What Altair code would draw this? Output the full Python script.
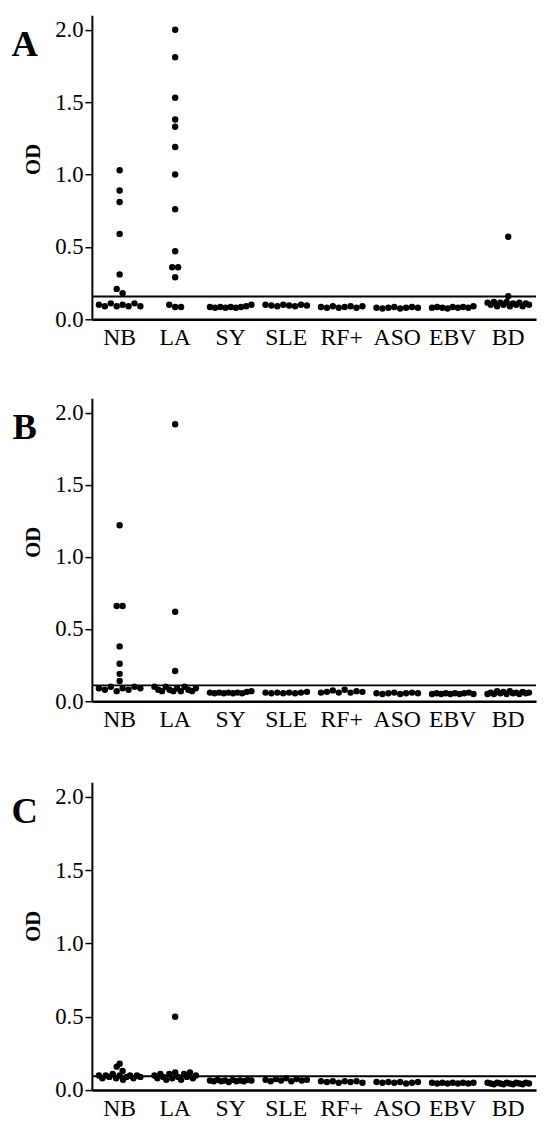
import altair as alt
import pandas as pd

categories = ["NB", "LA", "SY", "SLE", "RF+", "ASO", "EBV", "BD"]

# Panel A values (OD)
A_NB = [1.03, 0.89, 0.81, 0.59, 0.31, 0.21, 0.18, 0.10, 0.09, 0.11, 0.09, 0.10, 0.09, 0.11, 0.09]
A_LA = [2.00, 1.81, 1.53, 1.38, 1.33, 1.19, 1.00, 0.76, 0.47, 0.36, 0.36, 0.29, 0.10, 0.085, 0.085]
A_SY = [0.085, 0.08, 0.085, 0.08, 0.085, 0.08, 0.085, 0.09, 0.10]
A_SLE = [0.10, 0.095, 0.09, 0.10, 0.095, 0.09, 0.10, 0.095]
A_RF = [0.085, 0.08, 0.09, 0.08, 0.085, 0.09, 0.08, 0.09]
A_ASO = [0.08, 0.075, 0.08, 0.085, 0.075, 0.08, 0.085, 0.08]
A_EBV = [0.08, 0.085, 0.08, 0.075, 0.085, 0.08, 0.085, 0.08, 0.09]
A_BD = [0.57, 0.16, 0.115, 0.10, 0.12, 0.09, 0.115, 0.10, 0.12, 0.09, 0.11, 0.10, 0.115, 0.09, 0.11, 0.10]

# Panel B values
B_NB = [1.22, 0.66, 0.66, 0.38, 0.26, 0.19, 0.14, 0.09, 0.08, 0.10, 0.07, 0.09, 0.08, 0.10, 0.09]
B_LA = [1.92, 0.62, 0.21, 0.10, 0.08, 0.07, 0.10, 0.08, 0.07, 0.09, 0.07, 0.10, 0.08, 0.07, 0.09]
B_SY = [0.06, 0.055, 0.06, 0.055, 0.06, 0.055, 0.06, 0.055, 0.065, 0.07]
B_SLE = [0.06, 0.055, 0.06, 0.055, 0.06, 0.055, 0.06, 0.065]
B_RF = [0.06, 0.065, 0.075, 0.06, 0.08, 0.06, 0.07, 0.065]
B_ASO = [0.055, 0.05, 0.055, 0.06, 0.05, 0.055, 0.06, 0.055]
B_EBV = [0.05, 0.055, 0.05, 0.055, 0.05, 0.055, 0.05, 0.055, 0.06, 0.05]
B_BD = [0.05, 0.06, 0.05, 0.07, 0.055, 0.065, 0.05, 0.07, 0.055, 0.06, 0.05, 0.065, 0.055, 0.06]

# Panel C values
C_NB = [0.16, 0.13, 0.18, 0.10, 0.08, 0.10, 0.09, 0.11, 0.08, 0.10, 0.07, 0.09, 0.10, 0.08, 0.10, 0.09]
C_LA = [0.50, 0.10, 0.08, 0.11, 0.09, 0.07, 0.11, 0.08, 0.12, 0.09, 0.07, 0.11, 0.09, 0.12, 0.08, 0.10]
C_SY = [0.065, 0.06, 0.07, 0.06, 0.065, 0.055, 0.07, 0.06, 0.065, 0.06, 0.07, 0.065]
C_SLE = [0.07, 0.06, 0.075, 0.065, 0.08, 0.06, 0.075, 0.065, 0.07]
C_RF = [0.06, 0.055, 0.06, 0.05, 0.06, 0.055, 0.06, 0.05]
C_ASO = [0.055, 0.05, 0.055, 0.05, 0.055, 0.045, 0.05, 0.055]
C_EBV = [0.05, 0.045, 0.05, 0.045, 0.05, 0.045, 0.05, 0.045, 0.05]
C_BD = [0.05, 0.045, 0.04, 0.05, 0.045, 0.04, 0.05, 0.045, 0.04, 0.05, 0.045, 0.04, 0.05, 0.045]

panel_letters = ["A", "B", "C"]
panel_series = [
    [A_NB, A_LA, A_SY, A_SLE, A_RF, A_ASO, A_EBV, A_BD],
    [B_NB, B_LA, B_SY, B_SLE, B_RF, B_ASO, B_EBV, B_BD],
    [C_NB, C_LA, C_SY, C_SLE, C_RF, C_ASO, C_EBV, C_BD],
]
thresholds = [0.157, 0.11, 0.095]
y_ticks = [0.0, 0.5, 1.0, 1.5, 2.0]

W = 450
heights = [308, 307, 312]
BW = W / len(categories)
SERIF = "Liberation Serif"


def make_panel(letter, series, thr, h):
    rows = []
    for cat, vals in zip(categories, series):
        for i, v in enumerate(vals):
            rows.append({"cat": cat, "v": v, "i": i})
    df = pd.DataFrame(rows)

    pts = (
        alt.Chart(df)
        .transform_calculate(row="datum.v < 0.125 ? 0 : floor(datum.v / 0.06) + 1")
        .transform_window(rank="row_number()", groupby=["cat", "row"], sort=[alt.SortField("i")])
        .transform_joinaggregate(n="count()", groupby=["cat", "row"])
        .transform_calculate(
            off="(datum.rank - (datum.n + 1) / 2) * min(6, 42 / max(datum.n - 1, 1))"
        )
        .mark_circle(size=42, color="black", opacity=1)
        .encode(
            x=alt.X(
                "cat:N",
                sort=categories,
                scale=alt.Scale(domain=categories, paddingInner=0, paddingOuter=0),
                axis=alt.Axis(
                    title=None,
                    labelAngle=0,
                    ticks=False,
                    labelFont=SERIF,
                    labelFontSize=24,
                    labelPadding=7,
                    labelColor="black",
                    domainColor="black",
                    domainWidth=2.5,
                    grid=False,
                ),
            ),
            xOffset=alt.XOffset("off:Q", scale=alt.Scale(domain=[-BW / 2, BW / 2], range=[0, BW])),
            y=alt.Y(
                "v:Q",
                scale=alt.Scale(domain=[0, 2.1], nice=False),
                axis=alt.Axis(
                    title=None,
                    values=y_ticks,
                    format=".1f",
                    labelFont=SERIF,
                    labelFontSize=23,
                    labelColor="black",
                    labelPadding=2,
                    tickSize=7,
                    tickWidth=1.5,
                    tickColor="black",
                    domainColor="black",
                    domainWidth=2,
                    grid=False,
                ),
            ),
        )
    )

    rule = (
        alt.Chart(pd.DataFrame({"thr": [thr]}))
        .mark_rule(color="black", strokeWidth=2)
        .encode(y="thr:Q")
    )

    lab = (
        alt.Chart(pd.DataFrame({"t": [letter]}))
        .mark_text(font=SERIF, fontSize=37, fontWeight="bold", align="center",
                   baseline="alphabetic", color="black")
        .encode(text="t:N", x=alt.value(-68), y=alt.value(41))
    )

    od = (
        alt.Chart(pd.DataFrame({"t": ["OD"]}))
        .mark_text(font=SERIF, fontSize=21, fontWeight="bold", align="center",
                   baseline="middle", angle=270, color="black")
        .encode(text="t:N", x=alt.value(-59), y=alt.value(146))
    )

    return alt.layer(pts, rule, lab, od).properties(width=W, height=h)


panels = [make_panel(l, s, t, h) for l, s, t, h in zip(panel_letters, panel_series, thresholds, heights)]

chart = (
    alt.vconcat(alt.vconcat(panels[0], panels[1], spacing=49), panels[2], spacing=51)
    .properties(padding={"left": 3, "top": 0, "right": 0, "bottom": 0})
    .configure_view(stroke=None)
)

chart.save("out.html", embed_options={"renderer": "svg", "actions": False})
